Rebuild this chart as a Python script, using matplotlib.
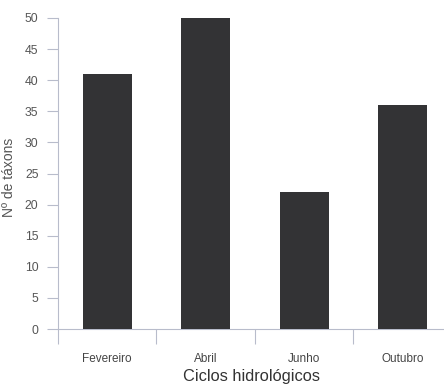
import matplotlib
matplotlib.use("Agg")
import matplotlib.pyplot as plt

categories = ["Fevereiro", "Abril", "Junho", "Outubro"]
values = [41, 50, 22, 36]
yticks = [0, 5, 10, 15, 20, 25, 30, 35, 40, 45, 50]

plt.rcParams['font.family'] = ['Liberation Sans', 'DejaVu Sans']

W, H = 444, 386
fig = plt.figure(figsize=(W/100, H/100), dpi=100)
ax = fig.add_axes([58/W, 57/H, 1 - 58/W, (329-18)/H])

axis_col = '#b8bccb'
ax.bar(range(len(categories)), values, width=0.5, color='#333335', zorder=3)
ax.set_xlim(-0.5, 3.42)
ax.set_ylim(0, 50)

ax.set_yticks(yticks)
ax.set_yticklabels([str(t) for t in yticks], fontsize=8.8, color='#555555')
ax.tick_params(axis='y', length=8, width=0.8, color=axis_col, pad=6)

ax.set_xticks(range(len(categories)))
ax.set_xticklabels(categories, fontsize=8.5, color='#444444')
ax.tick_params(axis='x', which='major', length=0, pad=17)
ax.set_xticks([-0.5, 0.5, 1.5, 2.5], minor=True)
ax.tick_params(axis='x', which='minor', length=11, width=0.8, color=axis_col)

for s in ['top', 'right']:
    ax.spines[s].set_visible(False)
for s in ['left', 'bottom']:
    ax.spines[s].set_color(axis_col)
    ax.spines[s].set_linewidth(0.8)

ax.set_xlabel("Ciclos hidrológicos", fontsize=11.8, color='#333333', labelpad=3)

fig.text(2/W, (H-177)/H, "Nº de táxons", rotation=90, ha='left', va='center',
         fontsize=10, color='#555555')

fig.savefig("out.png", dpi=100, facecolor='white')
